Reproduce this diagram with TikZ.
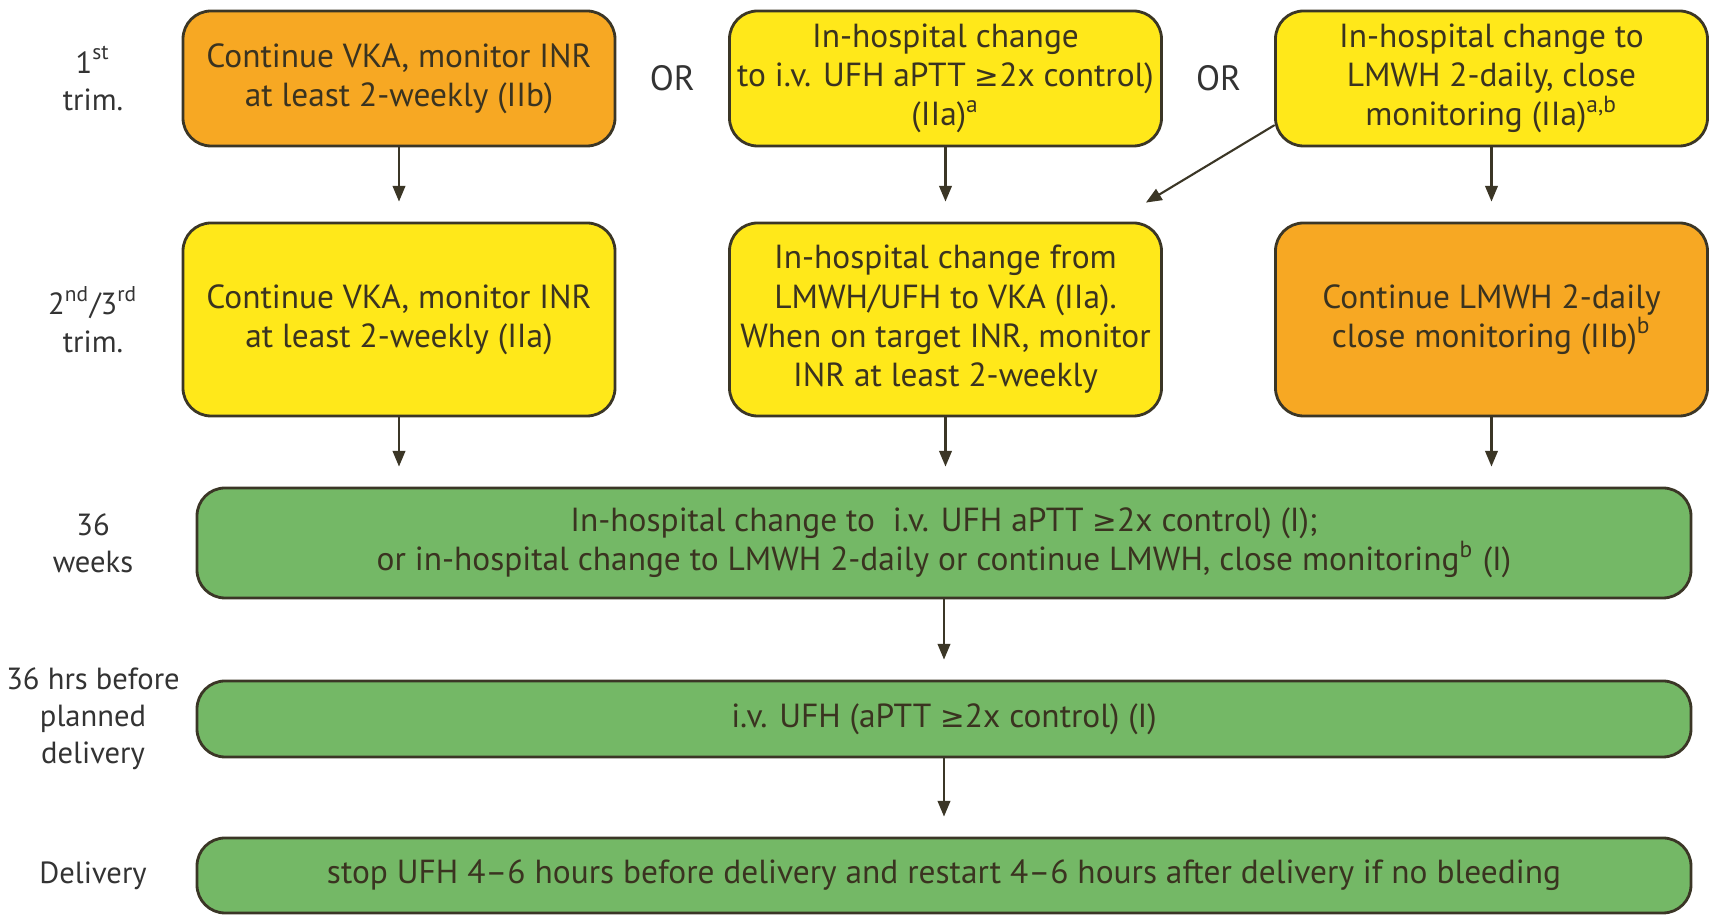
\documentclass[tikz,border=0pt]{standalone}
\usepackage{fontspec}
\setmainfont{PT Sans}
\newfontfamily\symfont[Scale=0.88]{DejaVu Sans}
\usetikzlibrary{calc,arrows.meta}
\definecolor{boxorange}{HTML}{F7A823}
\definecolor{boxyellow}{HTML}{FFE81A}
\definecolor{boxgreen}{HTML}{74B866}
\definecolor{boxedge}{HTML}{3B3626}
\definecolor{boxtext}{HTML}{3A3320}
\definecolor{lbltext}{HTML}{333333}
\newcommand{\gesign}{{\symfont ≥}}
\begin{document}
\begin{tikzpicture}[line join = round, line cap = round, >={Triangle[length=4.5pt,width=3.6pt]}, font=\fontsize{9.5}{11.2}\selectfont]
				\tikzset{box/.style={draw=boxedge, line width=0.8pt, rounded corners=2.8mm, align=center, text=boxtext, inner sep=0pt, minimum width=4.32cm},
					orangebox/.style={box, fill=boxorange},
					yellowbox/.style={box, fill=boxyellow},
					greenbox/.style={box, fill=boxgreen, minimum width=14.94cm},
					row label/.style={align=center, text=lbltext, font=\fontsize{8.7}{10.6}\selectfont},
					flow/.style={->, draw=boxedge, line width=0.6pt, shorten >=2mm}}
				\useasboundingbox (0,0) rectangle (17.16,-9.16);
				% trimester rows
				\node[orangebox, minimum height=1.35cm] (A1) at (3.99,-0.785) {Continue VKA, monitor INR\\at least 2-weekly (IIb)};
				\node[yellowbox, minimum height=1.35cm] (A2) at (9.455,-0.785) {In-hospital change\\to i.v. UFH aPTT \gesign2x control)\\(IIa)\textsuperscript{a}};
				\node[yellowbox, minimum height=1.35cm] (A3) at (14.915,-0.785) {In-hospital change to\\LMWH 2-daily, close\\monitoring (IIa)\textsuperscript{a,b}};
				\node[yellowbox, minimum height=1.93cm] (B1) at (3.99,-3.195) {Continue VKA, monitor INR\\at least 2-weekly (IIa)};
				\node[yellowbox, minimum height=1.93cm] (B2) at (9.455,-3.195) {In-hospital change from\\LMWH/UFH to VKA (IIa).\\When on target INR, monitor\\INR at least 2-weekly};
				\node[orangebox, minimum height=1.93cm] (B3) at (14.915,-3.195) {Continue LMWH 2-daily\\close monitoring (IIb)\textsuperscript{b}};
				% late pregnancy and delivery
				\node[greenbox, minimum height=1.10cm] (C) at (9.44,-5.43) {In-hospital change to\ \ i.v. UFH aPTT \gesign2x control) (I);\\or in-hospital change to LMWH 2-daily or continue LMWH, close monitoring\textsuperscript{b} (I)};
				\node[greenbox, minimum height=0.76cm] (D) at (9.44,-7.19) {i.v. UFH (aPTT \gesign2x control) (I)};
				\node[greenbox, minimum height=0.75cm] (E) at (9.44,-8.755) {stop UFH 4--6 hours before delivery and restart 4--6 hours after delivery if no bleeding};
				% row labels
				\node[row label] (T1) at (0.93,-0.785) {1\textsuperscript{st}\\trim.};
				\node[row label] (T2) at (0.93,-3.195) {2\textsuperscript{nd}/3\textsuperscript{rd}\\trim.};
				\node[row label] (T3) at (0.93,-5.43) {36\\weeks};
				\node[row label] (T4) at (0.93,-7.19) {36 hrs before\\planned\\delivery};
				\node[row label] (T5) at (0.93,-8.755) {Delivery};
				\node[row label, font=\fontsize{10}{12}\selectfont] (OR1) at ($(A1.east)!0.5!(A2.west)$) {OR};
				\node[row label, font=\fontsize{10}{12}\selectfont] (OR2) at ($(A2.east)!0.5!(A3.west)$) {OR};
				% arrows
				\foreach \p/\q in {A1/B1,A2/B2,A3/B3,C/D,D/E}
				\draw[flow] (\p) -- (\q);
				\foreach \p in {B1,B2,B3}
				\draw[flow] (\p.south) -- (\p.south |- C.north);
				\draw[flow, shorten >=0pt] ([yshift=2.2mm]A3.south west) -- ([xshift=-1.7mm,yshift=1.9mm]B2.north east);
		\end{tikzpicture}
\end{document}
